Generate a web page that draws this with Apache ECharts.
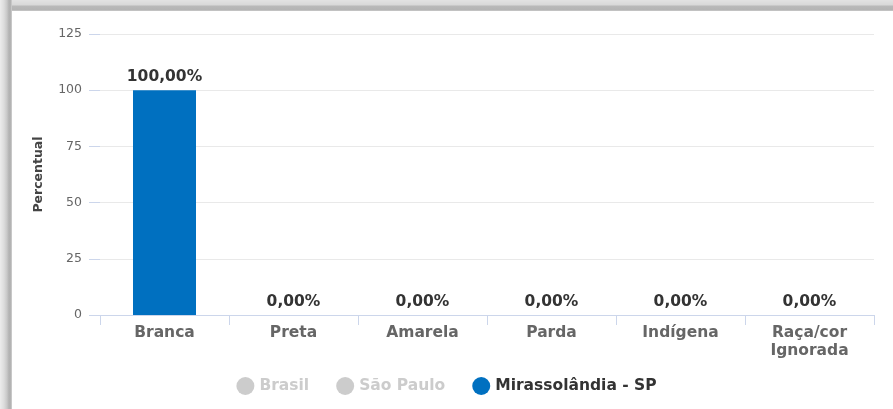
<!DOCTYPE html>
<html><head><meta charset="utf-8">
<script src="https://cdn.jsdelivr.net/npm/echarts@6/dist/echarts.min.js"></script>
<style>
html,body{margin:0;padding:0;background:#fff;}
#wrap{position:relative;width:893px;height:409px;overflow:hidden;}
#chart{position:absolute;left:0;top:0;width:893px;height:409px;}
#topband{position:absolute;left:0;top:0;width:893px;height:11px;background:linear-gradient(to bottom,#e2e2e2 0px,#d8d8d8 5px,#b9b9b9 6px,#b4b4b4 10px,#d0d0d0 11px);pointer-events:none;}
#leftband{position:absolute;left:0;top:0;width:12px;height:409px;background:linear-gradient(to right,#ececec 0px,#dcdcdc 4px,#c8c8c8 7px,#b2b2b2 9px,#b4b4b4 11px,#dadada 12px);pointer-events:none;}
</style></head>
<body><div id="wrap"><div id="chart"></div><div id="topband"></div><div id="leftband"></div></div>
<script>
const categories = ['Branca','Preta','Amarela','Parda','Indígena','Raça/cor\nIgnorada'];
const seriesNames = ['Brasil','São Paulo','Mirassolândia - SP'];
const brasilValues = [0,0,0,0,0,0];
const saoPauloValues = [0,0,0,0,0,0];
const mirassolandiaValues = [100,0,0,0,0,0];
const yTicks = [0,25,50,75,100,125];

const FONT = '"DejaVu Sans", sans-serif';
const chart = echarts.init(document.getElementById('chart'), null, {renderer:'canvas'});
function fmt(v){ return v.toFixed(2).replace('.',',') + '%'; }
const labelCfg = {show:true, position:'top', distance:5, color:'#333', fontFamily:FONT, fontWeight:'bold', fontSize:15.5, formatter:p=>fmt(p.value)};
chart.setOption({
  animation:false,
  grid:{left:100, right:19, top:34, bottom:94},
  legend:{
    data:seriesNames, bottom:9, left:'center', icon:'circle', itemWidth:18, itemHeight:18, itemGap:27,
    selected:{'Brasil':false,'São Paulo':false,'Mirassolândia - SP':true},
    inactiveColor:'#cccccc',
    textStyle:{color:'#333', fontFamily:FONT, fontWeight:'bold', fontSize:15.5}
  },
  xAxis:{
    type:'category', data:categories,
    axisLine:{show:true, lineStyle:{color:'#ccd6eb', width:1}},
    axisTick:{show:true, length:10, alignWithLabel:false, lineStyle:{color:'#ccd6eb'}},
    axisLabel:{color:'#666', fontFamily:FONT, fontWeight:'bold', fontSize:15.5, margin:9, lineHeight:18, interval:0},
    splitLine:{show:false}
  },
  yAxis:{
    type:'value', min:yTicks[0], max:yTicks[yTicks.length-1], interval:25,
    name:'Percentual', nameLocation:'middle', nameGap:55, nameRotate:90,
    nameTextStyle:{color:'#444', fontFamily:FONT, fontWeight:'bold', fontSize:12.5},
    axisLine:{show:false},
    axisTick:{show:true, length:11, lineStyle:{color:'#ccd6eb'}},
    axisLabel:{color:'#666', fontFamily:FONT, fontSize:12.5, margin:18},
    splitLine:{show:true, lineStyle:{color:'#e9e9e9', width:1}}
  },
  series:[
    {name:seriesNames[0], type:'bar', data:brasilValues, itemStyle:{color:'#cccccc'}, label:labelCfg},
    {name:seriesNames[1], type:'bar', data:saoPauloValues, itemStyle:{color:'#cccccc'}, label:labelCfg},
    {name:seriesNames[2], type:'bar', data:mirassolandiaValues, barWidth:63, itemStyle:{color:'#0070c0'}, label:labelCfg}
  ]
});
</script></body></html>
